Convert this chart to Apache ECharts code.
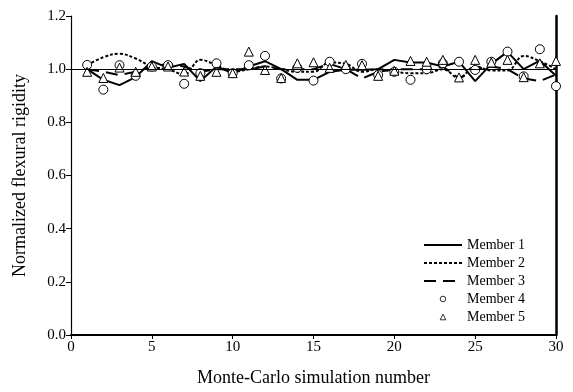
<!DOCTYPE html>
<html>
<head>
<meta charset="utf-8">
<script src="https://cdn.jsdelivr.net/npm/echarts@6/dist/echarts.min.js"></script>
<style>html,body{margin:0;padding:0;background:#fff}#c{width:573px;height:392px}</style>
</head>
<body>
<div id="c"></div>
<script>
var simNumbers = [1,2,3,4,5,6,7,8,9,10,11,12,13,14,15,16,17,18,19,20,21,22,23,24,25,26,27,28,29,30];
var member1 = [1.000,0.960,0.940,0.970,1.030,1.005,1.020,0.955,1.010,0.985,1.010,1.030,1.000,0.960,0.960,0.990,0.998,0.998,1.000,1.035,1.025,1.025,1.010,1.028,0.955,1.020,1.065,1.000,1.032,0.975];
var member2 = [1.015,1.045,1.058,1.040,1.010,1.000,0.980,1.035,1.015,0.990,1.000,1.010,1.000,0.990,0.990,1.025,1.020,0.990,1.000,0.990,0.985,0.985,1.000,0.967,1.010,0.995,0.995,1.050,1.030,1.000];
var member3 = [1.000,0.990,0.978,0.990,1.010,1.020,1.010,0.990,1.000,1.000,1.000,1.010,1.000,1.000,1.000,1.020,1.000,0.965,0.990,1.000,1.000,1.000,1.010,0.965,1.000,1.010,1.000,0.965,0.955,0.980];
var member4 = [1.016,0.923,1.015,0.975,1.010,1.015,0.945,0.985,1.022,0.985,1.015,1.050,0.965,1.005,0.957,1.028,1.000,1.020,0.978,0.990,0.960,1.000,1.022,1.028,0.997,1.028,1.066,0.973,1.075,0.936];
var member5 = [0.990,0.967,1.006,0.990,1.010,1.010,0.991,0.975,0.990,0.985,1.066,0.997,0.967,1.022,1.026,1.005,1.016,1.015,0.975,0.994,1.031,1.028,1.035,0.969,1.035,1.025,1.035,0.970,1.022,1.031];
var seriesNames = ['Member 1','Member 2','Member 3','Member 4','Member 5'];
var xTicks = [0,5,10,15,20,25,30];
var yTicks = [0.0,0.2,0.4,0.6,0.8,1.0,1.2];
var refValue = 1.0;

function pairs(arr){ return simNumbers.map(function(x,i){ return [x, arr[i]]; }); }

var font = 'Liberation Serif';
var chart = echarts.init(document.getElementById('c'), null, {renderer:'canvas'});
var hiddenSym = {color: 'rgba(0,0,0,0)', borderColor: 'rgba(0,0,0,0)', borderWidth: 0, opacity: 0};
var markerStyle = {color: '#fff', borderColor: '#000', borderWidth: 1, opacity: 1};
var legendMarker = {color: '#fff', borderColor: '#000', borderWidth: 0.8};
chart.setOption({
  backgroundColor: '#fff',
  animation: false,
  grid: {left: 71, right: 17, top: 16, bottom: 53, containLabel: false},
  legend: {
    orient: 'vertical', left: 423, top: 238, padding: 0,
    itemWidth: 38, itemHeight: 7, itemGap: 4,
    textStyle: {fontFamily: font, fontSize: 14, color: '#000', lineHeight: 14},
    data: [
      {name: seriesNames[0], itemStyle: hiddenSym},
      {name: seriesNames[1], itemStyle: hiddenSym},
      {name: seriesNames[2], itemStyle: hiddenSym},
      {name: seriesNames[3], itemStyle: legendMarker},
      {name: seriesNames[4], itemStyle: legendMarker}
    ]
  },
  xAxis: {
    type: 'value', min: xTicks[0], max: xTicks[xTicks.length-1], interval: 5,
    name: 'Monte-Carlo simulation number', nameLocation: 'middle', nameGap: 34,
    nameTextStyle: {fontFamily: font, fontSize: 18, color: '#000'},
    axisLine: {onZero: false, lineStyle: {color: '#000', width: 2}},
    axisTick: {show: true, inside: false, length: 4, lineStyle: {color: '#000', width: 1}},
    axisLabel: {fontFamily: font, fontSize: 15, color: '#000', margin: 5},
    splitLine: {show: false}
  },
  yAxis: [{
    type: 'value', min: yTicks[0], max: yTicks[yTicks.length-1], interval: 0.2,
    name: 'Normalized flexural rigidity', nameLocation: 'middle', nameGap: 42,
    nameTextStyle: {fontFamily: font, fontSize: 18, color: '#000'},
    axisLine: {show: true, onZero: false, lineStyle: {color: '#000', width: 1.2}},
    axisTick: {show: true, inside: false, length: 5, lineStyle: {color: '#000', width: 1}},
    axisLabel: {fontFamily: font, fontSize: 15, color: '#000', margin: 5, formatter: function(v){ return v.toFixed(1); }},
    splitLine: {show: false}
  },{
    type: 'value', min: yTicks[0], max: yTicks[yTicks.length-1], interval: 0.2, position: 'right',
    axisLine: {show: true, onZero: false, lineStyle: {color: '#000', width: 2.5}},
    axisTick: {show: false}, axisLabel: {show: false}, splitLine: {show: false}
  }],
  series: [
    {name: seriesNames[0], type: 'line', data: pairs(member1), symbol: 'none', smooth: false,
     lineStyle: {color: '#000', width: 2, type: 'solid'}, itemStyle: {color: '#000'}, z: 3,
     markLine: {silent: true, symbol: 'none', label: {show: false}, animation: false,
       lineStyle: {color: '#000', width: 1, type: 'solid'}, data: [{yAxis: refValue}]}},
    {name: seriesNames[1], type: 'line', data: pairs(member2), symbol: 'none', smooth: 0.4,
     lineStyle: {color: '#000', width: 2, type: [3,2]}, itemStyle: {color: '#000'}, z: 3},
    {name: seriesNames[2], type: 'line', data: pairs(member3), symbol: 'none', smooth: false,
     lineStyle: {color: '#000', width: 2, type: [12,7]}, itemStyle: {color: '#000'}, z: 3},
    {name: seriesNames[3], type: 'line', data: pairs(member4), symbol: 'circle', symbolSize: 9,
     showSymbol: true, showAllSymbol: true,
     lineStyle: {width: 0, opacity: 0}, itemStyle: markerStyle, z: 4},
    {name: seriesNames[4], type: 'line', data: pairs(member5), symbol: 'triangle', symbolSize: 9,
     showSymbol: true, showAllSymbol: true,
     lineStyle: {width: 0, opacity: 0}, itemStyle: markerStyle, z: 4}
  ]
});
</script>
</body>
</html>
